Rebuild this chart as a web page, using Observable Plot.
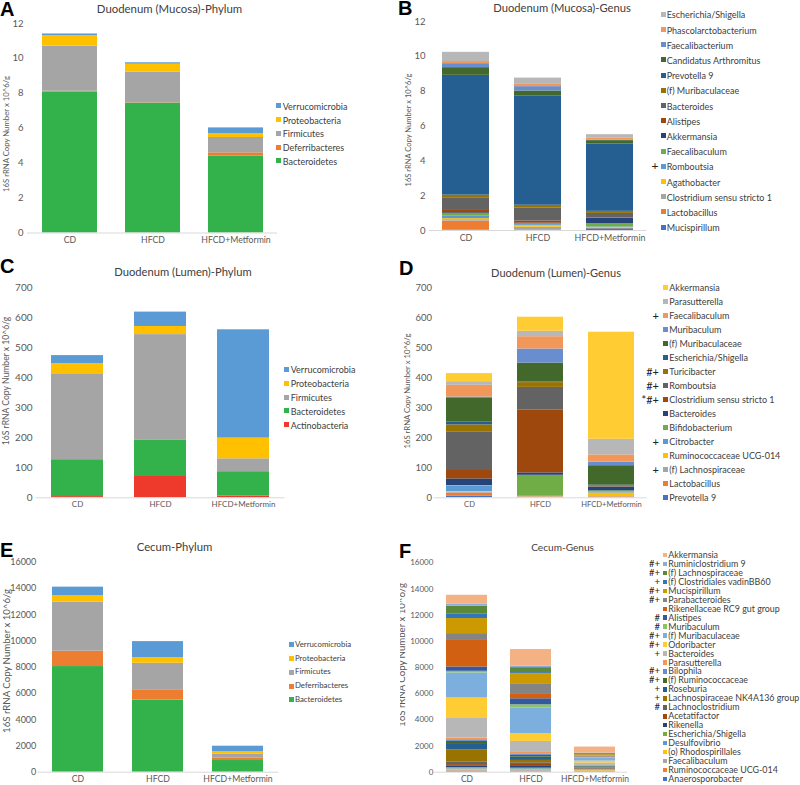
<!DOCTYPE html>
<html><head><meta charset="utf-8">
<script src="https://cdn.jsdelivr.net/npm/d3@7"></script>
<script src="https://cdn.jsdelivr.net/npm/@observablehq/plot@0.6"></script>
<style>
body{margin:0;background:#fff;font-family:Lato, sans-serif;}
#root{position:relative;width:800px;height:785px;overflow:hidden;background:#fff}
.abs{position:absolute;white-space:nowrap;line-height:1}
svg{position:absolute}
</style></head><body><div id="root"></div>
<script>
const groups = ["CD", "HFCD", "HFCD+Metformin"];

// ---- A: Duodenum (Mucosa)-Phylum (series bottom -> top)
const phylaA = ["Bacteroidetes","Deferribacteres","Firmicutes","Proteobacteria","Verrucomicrobia"];
const a_CD   = [8.08, 0.04, 2.58, 0.60, 0.10];
const a_HFCD = [7.44, 0.02, 1.76, 0.45, 0.08];
const a_Met  = [4.40, 0.19, 0.88, 0.23, 0.32];

// ---- B: Duodenum (Mucosa)-Genus
const genusB = ["Mucispirillum","Lactobacillus","Clostridium sensu stricto 1","Agathobacter","Romboutsia","Faecalibaculum","Akkermansia","Alistipes","Bacteroides","(f) Muribaculaceae","Prevotella 9","Candidatus Arthromitus","Faecalibacterium","Phascolarctobacterium","Escherichia/Shigella"];
const b_CD   = [0.02,0.52,0.08,0.06,0.14,0.14,0.06,0.18,0.68,0.15,6.88,0.44,0.23,0.12,0.53];
const b_HFCD = [0.02,0.02,0.15,0.10,0.05,0.05,0.03,0.12,0.76,0.15,6.26,0.30,0.25,0.13,0.36];
const b_Met  = [0.10,0.02,0.03,0.02,0.03,0.20,0.30,0.03,0.25,0.12,3.86,0.20,0.04,0.10,0.20];
const marksB = {"Romboutsia":"+"};

// ---- C: Duodenum (Lumen)-Phylum
const phylaC = ["Actinobacteria","Bacteroidetes","Firmicutes","Proteobacteria","Verrucomicrobia"];
const c_CD   = [4, 123, 284, 36, 27];
const c_HFCD = [71, 122, 351, 27, 48];
const c_Met  = [6, 81, 43, 69, 361];

// ---- D: Duodenum (Lumen)-Genus
const genusD = ["Prevotella 9","Lactobacillus","(f) Lachnospiraceae","Ruminococcaceae UCG-014","Citrobacter","Bifidobacterium","Bacteroides","Clostridium sensu stricto 1","Romboutsia","Turicibacter","Escherichia/Shigella","(f) Muribaculaceae","Muribaculum","Faecalibaculum","Parasutterella","Akkermansia"];
const d_CD   = [5,11,3,2,18,2,22,28,129,23,9,79,5,39,12,27];
const d_HFCD = [0.5,2,1,0.5,1,70,8,209,76,16,2,63,47,41,18,47];
const d_Met  = [1,2,1,12,3,4,12,1,2,1,3,65,12,24,52,357];
const marksD = {"Faecalibaculum":"+","Turicibacter":"#+","Romboutsia":"#+","Clostridium sensu stricto 1":"*#+","Citrobacter":"+","(f) Lachnospiraceae":"+"};

// ---- E: Cecum-Phylum
const phylaE = ["Bacteroidetes","Deferribacteres","Firmicutes","Proteobacteria","Verrucomicrobia"];
const e_CD   = [8050, 1170, 3730, 510, 640];
const e_HFCD = [5500, 780, 2020, 430, 1220];
const e_Met  = [890, 200, 300, 180, 410];

// ---- F: Cecum-Genus
const genusF = ["Anaerosporobacter","Ruminococcaceae UCG-014","Faecalibaculum","(o) Rhodospirillales","Desulfovibrio","Escherichia/Shigella","Rikenella","Acetatifactor","Lachnoclostridium","Lachnospiraceae NK4A136 group","Roseburia","(f) Ruminococcaceae","Bilophila","Parasutterella","Bacteroides","Odoribacter","(f) Muribaculaceae","Muribaculum","Alistipes","Rikenellaceae RC9 gut group","Parabacteroides","Mucispirillum","(f) Clostridiales vadinBB60","(f) Lachnospiraceae","Ruminiclostridium 9","Akkermansia"];
const f_CD   = [40,50,50,100,60,50,100,130,180,950,410,230,130,130,1550,1510,1910,130,330,2090,460,1150,330,610,150,690];
const f_HFCD = [30,50,50,50,80,50,130,150,130,180,250,130,80,150,840,590,1960,250,460,330,820,770,80,380,100,1280];
const f_Met  = [30,30,40,30,30,60,30,30,30,60,40,50,30,30,180,150,230,40,30,30,60,100,30,60,30,460];
const marksF = {"Ruminiclostridium 9":"#+","(f) Lachnospiraceae":"#+","(f) Clostridiales vadinBB60":"+","Mucispirillum":"#+","Parabacteroides":"#+","Alistipes":"#","Muribaculum":"#","(f) Muribaculaceae":"#+","Odoribacter":"#+","Bacteroides":"+","Bilophila":"#+","(f) Ruminococcaceae":"#+","Roseburia":"+","Lachnospiraceae NK4A136 group":"+","Lachnoclostridium":"#"};

// colours
const phylumColor = {"Bacteroidetes":"#33B24C","Deferribacteres":"#ED7D31","Firmicutes":"#A5A5A5","Proteobacteria":"#FFC000","Verrucomicrobia":"#5B9BD5","Actinobacteria":"#EE3A2C"};
const excel = ["#4472C4","#ED7D31","#A5A5A5","#FFC000","#5B9BD5","#70AD47","#264478","#9E480E","#636363","#997300","#255E91","#43682B","#698ED0","#F1975A","#B7B7B7","#FFCD33","#7CAFDD","#8CC168","#335AA1","#D26012","#848484","#CC9A00","#3275B9","#5A8A39","#8FAADC","#F4B183"];

const root = document.getElementById("root");
function addText(str, x, y, fs, anchor, extra) {
  const d = document.createElement("div");
  d.className = "abs";
  d.textContent = str;
  const tx = anchor === "left" ? "0" : anchor === "right" ? "-100%" : "-50%";
  Object.assign(d.style, {left: x + "px", top: y + "px", fontSize: fs + "px", color: "#404040", transform: `translate(${tx},-50%)`}, extra || {});
  root.appendChild(d);
  return d;
}
function addYLabel(x, y, fs, parent) {
  const d = document.createElement("div");
  d.className = "abs";
  d.textContent = "16S rRNA Copy Number x 10^6/g";
  Object.assign(d.style, {left: x + "px", top: y + "px", fontSize: fs + "px", color: "#595959", transform: "translate(-50%,-50%) rotate(-90deg)"});
  (parent || root).appendChild(d);
}
function legend(series, colors, o) {
  const items = series.map((s, i) => ({s, c: colors[i]})).reverse();
  items.forEach((it, i) => {
    const y = o.y0 + i * o.dy;
    const sq = document.createElement("div");
    sq.className = "abs";
    Object.assign(sq.style, {left: o.sx + "px", top: (y - o.sq / 2) + "px", width: o.sq + "px", height: o.sq + "px", background: it.c});
    root.appendChild(sq);
    addText(it.s, o.tx, y, o.fs, "left");
    if (o.markers && o.markers[it.s]) addText(o.markers[it.s], o.mx, y, o.mfs, "right", {color: "#222"});
  });
}
function panel(p) {
  const vals = [p.cd, p.hfcd, p.met];
  const data = [];
  groups.forEach((g, gi) => p.series.forEach((s, si) => data.push({group: g, series: s, value: vals[gi][si]})));
  const svg = Plot.plot({
    width: p.width, height: p.height,
    marginTop: p.mt, marginBottom: p.mb, marginLeft: p.ml, marginRight: p.mr,
    style: {fontFamily: "Lato, sans-serif", background: "transparent", color: "#595959", overflow: "visible"},
    x: {domain: groups, paddingInner: p.pad, paddingOuter: p.pad / 2},
    y: {domain: [0, p.ymax]},
    color: {domain: p.series, range: p.colors},
    marks: [
      Plot.barY(data, {x: "group", y: "value", fill: "series", order: p.series}),
      Plot.ruleY([0], {stroke: "#d9d9d9"}),
      Plot.axisX({tickSize: 0, tickPadding: 4, fontSize: p.xfs, label: null}),
      Plot.axisY({ticks: d3.range(0, p.ymax + 1, p.ystep), tickSize: 0, tickPadding: p.tp, tickFormat: "d", label: null, fontSize: p.tfs})
    ]
  });
  svg.style.left = p.left + "px";
  svg.style.top = p.top + "px";
  root.appendChild(svg);
}

const phyColsA = phylaA.map(s => phylumColor[s]);
const phyColsC = phylaC.map(s => phylumColor[s]);
const phyColsE = phylaE.map(s => phylumColor[s]);
const colsB = excel.slice(0, genusB.length);
const colsD = excel.slice(0, genusD.length);
const colsF = excel.slice(0, genusF.length);

// A
panel({left:0, top:0, width:290, height:250, mt:23, mb:17.5, ml:27, mr:13, pad:0.34, ymax:12, ystep:2, tp:4, tfs:9.5, xfs:8.7, series:phylaA, colors:phyColsA, cd:a_CD, hfcd:a_HFCD, met:a_Met});
// B
panel({left:400, top:0, width:260, height:250, mt:21, mb:20, ml:29, mr:13.5, pad:0.35, ymax:12, ystep:2, tp:4, tfs:9.5, xfs:8.9, series:genusB, colors:colsB, cd:b_CD, hfcd:b_HFCD, met:b_Met});
// C
panel({left:0, top:250, width:300, height:265, mt:37.3, mb:17.7, ml:35.5, mr:15.5, pad:0.37, ymax:700, ystep:100, tp:3.5, tfs:10, xfs:8, series:phylaC, colors:phyColsC, cd:c_CD, hfcd:c_HFCD, met:c_Met});
// D
panel({left:400, top:250, width:260, height:265, mt:37.3, mb:17.7, ml:33.5, mr:13.5, pad:0.35, ymax:700, ystep:100, tp:2, tfs:9.5, xfs:7.6, series:genusD, colors:colsD, cd:d_CD, hfcd:d_HFCD, met:d_Met});
// E
panel({left:0, top:505, width:290, height:280, mt:56.7, mb:13.3, ml:37.3, mr:11.7, pad:0.36, ymax:16000, ystep:2000, tp:1.5, tfs:9, xfs:8.7, series:phylaE, colors:phyColsE, cd:e_CD, hfcd:e_HFCD, met:e_Met});
// F
panel({left:400, top:505, width:240, height:280, mt:57.3, mb:13.3, ml:34.4, mr:12.9, pad:0.354, ymax:16000, ystep:2000, tp:1.5, tfs:8, xfs:8.5, series:genusF, colors:colsF, cd:f_CD, hfcd:f_HFCD, met:f_Met});

// titles
addText("Duodenum (Mucosa)-Phylum", 169.5, 8.5, 11.4, "center");
addText("Duodenum (Mucosa)-Genus", 562, 8, 11.2, "center");
addText("Duodenum (Lumen)-Phylum", 183, 271.7, 11.2, "center");
addText("Duodenum (Lumen)-Genus", 556, 271.7, 11, "center");
addText("Cecum-Phylum", 174.5, 546.7, 11.3, "center");
addText("Cecum-Genus", 562.6, 546.7, 10.1, "center");

// panel letters
const L = {fontFamily: "'Liberation Sans', Arial, sans-serif", fontWeight: "bold", color: "#000"};
addText("A", 0, 8.5, 20, "left", L);
addText("B", 398, 8, 20, "left", L);
addText("C", 0, 266, 20, "left", L);
addText("D", 399, 267.5, 20, "left", L);
addText("E", 0, 550, 20, "left", L);
addText("F", 399, 550.5, 20, "left", L);

// y-axis titles
addYLabel(7, 134, 7.75);
addYLabel(409, 129.5, 7.55);
addYLabel(6, 381, 8.6);
addYLabel(408, 391, 7.7);
addYLabel(7, 661, 9.65);
const clip = document.createElement("div");
clip.className = "abs";
Object.assign(clip.style, {left: "400px", top: "505px", width: "20px", height: "280px", overflow: "hidden"});
root.appendChild(clip);
addYLabel(1.5, 150, 9.65, clip);

// legends
legend(phylaA, phyColsA, {sx:276, tx:282.7, y0:105.7, dy:13.8, fs:9, sq:5});
legend(genusB, colsB, {sx:661, tx:666.7, y0:14.3, dy:15.2, fs:9, sq:5, markers:marksB, mx:658.5, mfs:12});
legend(phylaC, phyColsC, {sx:284, tx:290.7, y0:369.3, dy:13.85, fs:9, sq:5});
legend(genusD, colsD, {sx:663, tx:669.3, y0:287.3, dy:14, fs:9, sq:5, markers:marksD, mx:659, mfs:11});
legend(phylaE, phyColsE, {sx:288.5, tx:295, y0:644.7, dy:13.8, fs:7.8, sq:5});
legend(genusF, colsF, {sx:662.5, tx:668.3, y0:555, dy:8.96, fs:8.9, sq:4.5, markers:marksF, mx:660, mfs:9.5});
</script></body></html>
